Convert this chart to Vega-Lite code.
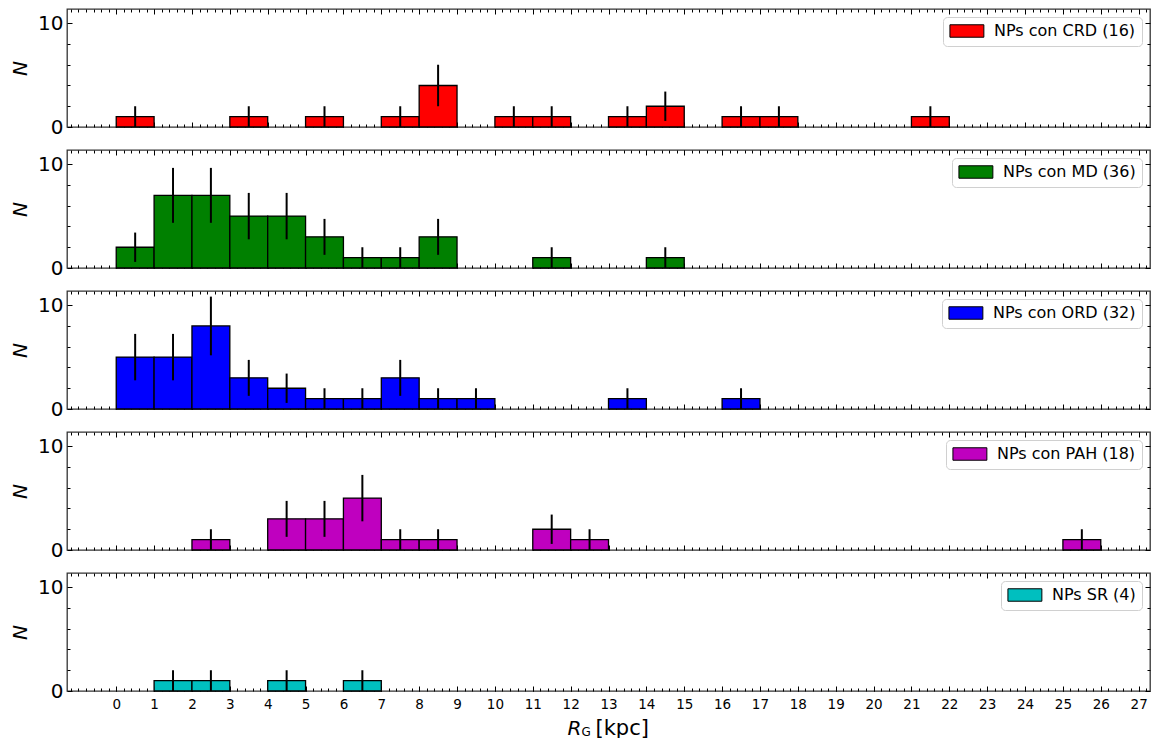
{
  "$schema": "https://vega.github.io/schema/vega-lite/v6.json",
  "background": "white",
  "padding": {"left": 9, "top": 7, "right": 3, "bottom": 0},
  "bounds": "flush",
  "spacing": 23,
  "datasets": {
    "crd": [
      {"bin_start": 0, "bin_end": 1, "rg": 0.5, "n": 1, "lo": 0, "hi": 2, "label": "NPs con CRD (16)"},
      {"bin_start": 3, "bin_end": 4, "rg": 3.5, "n": 1, "lo": 0, "hi": 2, "label": "NPs con CRD (16)"},
      {"bin_start": 5, "bin_end": 6, "rg": 5.5, "n": 1, "lo": 0, "hi": 2, "label": "NPs con CRD (16)"},
      {"bin_start": 7, "bin_end": 8, "rg": 7.5, "n": 1, "lo": 0, "hi": 2, "label": "NPs con CRD (16)"},
      {"bin_start": 8, "bin_end": 9, "rg": 8.5, "n": 4, "lo": 2, "hi": 6, "label": "NPs con CRD (16)"},
      {"bin_start": 10, "bin_end": 11, "rg": 10.5, "n": 1, "lo": 0, "hi": 2, "label": "NPs con CRD (16)"},
      {"bin_start": 11, "bin_end": 12, "rg": 11.5, "n": 1, "lo": 0, "hi": 2, "label": "NPs con CRD (16)"},
      {"bin_start": 13, "bin_end": 14, "rg": 13.5, "n": 1, "lo": 0, "hi": 2, "label": "NPs con CRD (16)"},
      {"bin_start": 14, "bin_end": 15, "rg": 14.5, "n": 2, "lo": 0.586, "hi": 3.414, "label": "NPs con CRD (16)"},
      {"bin_start": 16, "bin_end": 17, "rg": 16.5, "n": 1, "lo": 0, "hi": 2, "label": "NPs con CRD (16)"},
      {"bin_start": 17, "bin_end": 18, "rg": 17.5, "n": 1, "lo": 0, "hi": 2, "label": "NPs con CRD (16)"},
      {"bin_start": 21, "bin_end": 22, "rg": 21.5, "n": 1, "lo": 0, "hi": 2, "label": "NPs con CRD (16)"}
    ],
    "md": [
      {"bin_start": 0, "bin_end": 1, "rg": 0.5, "n": 2, "lo": 0.586, "hi": 3.414, "label": "NPs con MD (36)"},
      {"bin_start": 1, "bin_end": 2, "rg": 1.5, "n": 7, "lo": 4.354, "hi": 9.646, "label": "NPs con MD (36)"},
      {"bin_start": 2, "bin_end": 3, "rg": 2.5, "n": 7, "lo": 4.354, "hi": 9.646, "label": "NPs con MD (36)"},
      {"bin_start": 3, "bin_end": 4, "rg": 3.5, "n": 5, "lo": 2.764, "hi": 7.236, "label": "NPs con MD (36)"},
      {"bin_start": 4, "bin_end": 5, "rg": 4.5, "n": 5, "lo": 2.764, "hi": 7.236, "label": "NPs con MD (36)"},
      {"bin_start": 5, "bin_end": 6, "rg": 5.5, "n": 3, "lo": 1.268, "hi": 4.732, "label": "NPs con MD (36)"},
      {"bin_start": 6, "bin_end": 7, "rg": 6.5, "n": 1, "lo": 0, "hi": 2, "label": "NPs con MD (36)"},
      {"bin_start": 7, "bin_end": 8, "rg": 7.5, "n": 1, "lo": 0, "hi": 2, "label": "NPs con MD (36)"},
      {"bin_start": 8, "bin_end": 9, "rg": 8.5, "n": 3, "lo": 1.268, "hi": 4.732, "label": "NPs con MD (36)"},
      {"bin_start": 11, "bin_end": 12, "rg": 11.5, "n": 1, "lo": 0, "hi": 2, "label": "NPs con MD (36)"},
      {"bin_start": 14, "bin_end": 15, "rg": 14.5, "n": 1, "lo": 0, "hi": 2, "label": "NPs con MD (36)"}
    ],
    "ord": [
      {"bin_start": 0, "bin_end": 1, "rg": 0.5, "n": 5, "lo": 2.764, "hi": 7.236, "label": "NPs con ORD (32)"},
      {"bin_start": 1, "bin_end": 2, "rg": 1.5, "n": 5, "lo": 2.764, "hi": 7.236, "label": "NPs con ORD (32)"},
      {"bin_start": 2, "bin_end": 3, "rg": 2.5, "n": 8, "lo": 5.172, "hi": 10.828, "label": "NPs con ORD (32)"},
      {"bin_start": 3, "bin_end": 4, "rg": 3.5, "n": 3, "lo": 1.268, "hi": 4.732, "label": "NPs con ORD (32)"},
      {"bin_start": 4, "bin_end": 5, "rg": 4.5, "n": 2, "lo": 0.586, "hi": 3.414, "label": "NPs con ORD (32)"},
      {"bin_start": 5, "bin_end": 6, "rg": 5.5, "n": 1, "lo": 0, "hi": 2, "label": "NPs con ORD (32)"},
      {"bin_start": 6, "bin_end": 7, "rg": 6.5, "n": 1, "lo": 0, "hi": 2, "label": "NPs con ORD (32)"},
      {"bin_start": 7, "bin_end": 8, "rg": 7.5, "n": 3, "lo": 1.268, "hi": 4.732, "label": "NPs con ORD (32)"},
      {"bin_start": 8, "bin_end": 9, "rg": 8.5, "n": 1, "lo": 0, "hi": 2, "label": "NPs con ORD (32)"},
      {"bin_start": 9, "bin_end": 10, "rg": 9.5, "n": 1, "lo": 0, "hi": 2, "label": "NPs con ORD (32)"},
      {"bin_start": 13, "bin_end": 14, "rg": 13.5, "n": 1, "lo": 0, "hi": 2, "label": "NPs con ORD (32)"},
      {"bin_start": 16, "bin_end": 17, "rg": 16.5, "n": 1, "lo": 0, "hi": 2, "label": "NPs con ORD (32)"}
    ],
    "pah": [
      {"bin_start": 2, "bin_end": 3, "rg": 2.5, "n": 1, "lo": 0, "hi": 2, "label": "NPs con PAH (18)"},
      {"bin_start": 4, "bin_end": 5, "rg": 4.5, "n": 3, "lo": 1.268, "hi": 4.732, "label": "NPs con PAH (18)"},
      {"bin_start": 5, "bin_end": 6, "rg": 5.5, "n": 3, "lo": 1.268, "hi": 4.732, "label": "NPs con PAH (18)"},
      {"bin_start": 6, "bin_end": 7, "rg": 6.5, "n": 5, "lo": 2.764, "hi": 7.236, "label": "NPs con PAH (18)"},
      {"bin_start": 7, "bin_end": 8, "rg": 7.5, "n": 1, "lo": 0, "hi": 2, "label": "NPs con PAH (18)"},
      {"bin_start": 8, "bin_end": 9, "rg": 8.5, "n": 1, "lo": 0, "hi": 2, "label": "NPs con PAH (18)"},
      {"bin_start": 11, "bin_end": 12, "rg": 11.5, "n": 2, "lo": 0.586, "hi": 3.414, "label": "NPs con PAH (18)"},
      {"bin_start": 12, "bin_end": 13, "rg": 12.5, "n": 1, "lo": 0, "hi": 2, "label": "NPs con PAH (18)"},
      {"bin_start": 25, "bin_end": 26, "rg": 25.5, "n": 1, "lo": 0, "hi": 2, "label": "NPs con PAH (18)"}
    ],
    "sr": [
      {"bin_start": 1, "bin_end": 2, "rg": 1.5, "n": 1, "lo": 0, "hi": 2, "label": "NPs SR (4)"},
      {"bin_start": 2, "bin_end": 3, "rg": 2.5, "n": 1, "lo": 0, "hi": 2, "label": "NPs SR (4)"},
      {"bin_start": 4, "bin_end": 5, "rg": 4.5, "n": 1, "lo": 0, "hi": 2, "label": "NPs SR (4)"},
      {"bin_start": 6, "bin_end": 7, "rg": 6.5, "n": 1, "lo": 0, "hi": 2, "label": "NPs SR (4)"}
    ]
  },
  "vconcat": [
    {
      "width": 1083, "height": 118,
      "data": {"name": "crd"},
      "layer": [
        {"mark": {"type": "bar", "stroke": "black", "strokeWidth": 1.3},
         "encoding": {
           "x": {"field": "bin_start", "type": "quantitative", "scale": {"domain": [-1.3, 27.3], "nice": false, "zero": false}, "axis": null},
           "x2": {"field": "bin_end"},
           "y": {"field": "n", "type": "quantitative", "scale": {"domain": [0, 11.37], "nice": false, "zero": false}, "axis": {"orient": "left", "values": [0, 10], "ticks": false, "labelFontSize": 20, "labelPadding": 4, "title": "N", "titleFontSize": 20, "titleFontStyle": "italic", "titlePadding": 7}},
           "y2": {"datum": 0},
           "fill": {"field": "label", "type": "nominal", "scale": {"range": ["#ff0000"]}, "legend": {"title": null, "orient": "top-right", "offset": 8, "symbolType": "M-1,-0.88H3.8V0.88H-1Z", "symbolSize": 200, "symbolStrokeColor": "black", "symbolStrokeWidth": 1, "labelOffset": 29}}
         }},
        {"mark": {"type": "rule", "stroke": "black", "strokeWidth": 2},
         "encoding": {
           "x": {"field": "rg", "type": "quantitative", "scale": {"domain": [-1.3, 27.3], "nice": false, "zero": false}, "axis": {"orient": "bottom", "values": [0,1,2,3,4,5,6,7,8,9,10,11,12,13,14,15,16,17,18,19,20,21,22,23,24,25,26,27], "tickSize": -5, "labels": false, "title": null}},
           "y": {"field": "lo", "type": "quantitative", "scale": {"domain": [0, 11.37], "nice": false, "zero": false}, "axis": {"orient": "left", "values": [0, 10], "tickSize": -5, "labels": false, "title": null}},
           "y2": {"field": "hi"}
         }},
        {"mark": {"type": "point", "opacity": 0},
         "encoding": {
           "x": {"field": "rg", "type": "quantitative", "scale": {"domain": [-1.3, 27.3], "nice": false, "zero": false}, "axis": {"orient": "bottom", "tickCount": 143, "tickSize": -3, "labels": false, "title": null}},
           "y": {"field": "n", "type": "quantitative", "scale": {"domain": [0, 11.37], "nice": false, "zero": false}, "axis": {"orient": "left", "values": [2, 4, 6, 8], "tickSize": -3, "labels": false, "title": null}}
         }},
        {"mark": {"type": "point", "opacity": 0},
         "encoding": {
           "x": {"field": "rg", "type": "quantitative", "scale": {"domain": [-1.3, 27.3], "nice": false, "zero": false}, "axis": {"orient": "top", "values": [0,1,2,3,4,5,6,7,8,9,10,11,12,13,14,15,16,17,18,19,20,21,22,23,24,25,26,27], "tickSize": -5, "labels": false, "title": null}},
           "y": {"field": "n", "type": "quantitative", "scale": {"domain": [0, 11.37], "nice": false, "zero": false}, "axis": {"orient": "right", "values": [0, 10], "tickSize": -5, "labels": false, "title": null}}
         }},
        {"mark": {"type": "point", "opacity": 0},
         "encoding": {
           "x": {"field": "rg", "type": "quantitative", "scale": {"domain": [-1.3, 27.3], "nice": false, "zero": false}, "axis": {"orient": "top", "tickCount": 143, "tickSize": -3, "labels": false, "title": null}},
           "y": {"field": "n", "type": "quantitative", "scale": {"domain": [0, 11.37], "nice": false, "zero": false}, "axis": {"orient": "right", "values": [2, 4, 6, 8], "tickSize": -3, "labels": false, "title": null}}
         }}
      ],
      "resolve": {"axis": {"x": "independent", "y": "independent"}}
    },
    {
      "width": 1083, "height": 118,
      "data": {"name": "md"},
      "layer": [
        {"mark": {"type": "bar", "stroke": "black", "strokeWidth": 1.3},
         "encoding": {
           "x": {"field": "bin_start", "type": "quantitative", "scale": {"domain": [-1.3, 27.3], "nice": false, "zero": false}, "axis": null},
           "x2": {"field": "bin_end"},
           "y": {"field": "n", "type": "quantitative", "scale": {"domain": [0, 11.37], "nice": false, "zero": false}, "axis": {"orient": "left", "values": [0, 10], "ticks": false, "labelFontSize": 20, "labelPadding": 4, "title": "N", "titleFontSize": 20, "titleFontStyle": "italic", "titlePadding": 7}},
           "y2": {"datum": 0},
           "fill": {"field": "label", "type": "nominal", "scale": {"range": ["#008000"]}, "legend": {"title": null, "orient": "top-right", "offset": 8, "symbolType": "M-1,-0.88H3.8V0.88H-1Z", "symbolSize": 200, "symbolStrokeColor": "black", "symbolStrokeWidth": 1, "labelOffset": 29}}
         }},
        {"mark": {"type": "rule", "stroke": "black", "strokeWidth": 2},
         "encoding": {
           "x": {"field": "rg", "type": "quantitative", "scale": {"domain": [-1.3, 27.3], "nice": false, "zero": false}, "axis": {"orient": "bottom", "values": [0,1,2,3,4,5,6,7,8,9,10,11,12,13,14,15,16,17,18,19,20,21,22,23,24,25,26,27], "tickSize": -5, "labels": false, "title": null}},
           "y": {"field": "lo", "type": "quantitative", "scale": {"domain": [0, 11.37], "nice": false, "zero": false}, "axis": {"orient": "left", "values": [0, 10], "tickSize": -5, "labels": false, "title": null}},
           "y2": {"field": "hi"}
         }},
        {"mark": {"type": "point", "opacity": 0},
         "encoding": {
           "x": {"field": "rg", "type": "quantitative", "scale": {"domain": [-1.3, 27.3], "nice": false, "zero": false}, "axis": {"orient": "bottom", "tickCount": 143, "tickSize": -3, "labels": false, "title": null}},
           "y": {"field": "n", "type": "quantitative", "scale": {"domain": [0, 11.37], "nice": false, "zero": false}, "axis": {"orient": "left", "values": [2, 4, 6, 8], "tickSize": -3, "labels": false, "title": null}}
         }},
        {"mark": {"type": "point", "opacity": 0},
         "encoding": {
           "x": {"field": "rg", "type": "quantitative", "scale": {"domain": [-1.3, 27.3], "nice": false, "zero": false}, "axis": {"orient": "top", "values": [0,1,2,3,4,5,6,7,8,9,10,11,12,13,14,15,16,17,18,19,20,21,22,23,24,25,26,27], "tickSize": -5, "labels": false, "title": null}},
           "y": {"field": "n", "type": "quantitative", "scale": {"domain": [0, 11.37], "nice": false, "zero": false}, "axis": {"orient": "right", "values": [0, 10], "tickSize": -5, "labels": false, "title": null}}
         }},
        {"mark": {"type": "point", "opacity": 0},
         "encoding": {
           "x": {"field": "rg", "type": "quantitative", "scale": {"domain": [-1.3, 27.3], "nice": false, "zero": false}, "axis": {"orient": "top", "tickCount": 143, "tickSize": -3, "labels": false, "title": null}},
           "y": {"field": "n", "type": "quantitative", "scale": {"domain": [0, 11.37], "nice": false, "zero": false}, "axis": {"orient": "right", "values": [2, 4, 6, 8], "tickSize": -3, "labels": false, "title": null}}
         }}
      ],
      "resolve": {"axis": {"x": "independent", "y": "independent"}}
    },
    {
      "width": 1083, "height": 118,
      "data": {"name": "ord"},
      "layer": [
        {"mark": {"type": "bar", "stroke": "black", "strokeWidth": 1.3},
         "encoding": {
           "x": {"field": "bin_start", "type": "quantitative", "scale": {"domain": [-1.3, 27.3], "nice": false, "zero": false}, "axis": null},
           "x2": {"field": "bin_end"},
           "y": {"field": "n", "type": "quantitative", "scale": {"domain": [0, 11.37], "nice": false, "zero": false}, "axis": {"orient": "left", "values": [0, 10], "ticks": false, "labelFontSize": 20, "labelPadding": 4, "title": "N", "titleFontSize": 20, "titleFontStyle": "italic", "titlePadding": 7}},
           "y2": {"datum": 0},
           "fill": {"field": "label", "type": "nominal", "scale": {"range": ["#0000ff"]}, "legend": {"title": null, "orient": "top-right", "offset": 8, "symbolType": "M-1,-0.88H3.8V0.88H-1Z", "symbolSize": 200, "symbolStrokeColor": "black", "symbolStrokeWidth": 1, "labelOffset": 29}}
         }},
        {"mark": {"type": "rule", "stroke": "black", "strokeWidth": 2},
         "encoding": {
           "x": {"field": "rg", "type": "quantitative", "scale": {"domain": [-1.3, 27.3], "nice": false, "zero": false}, "axis": {"orient": "bottom", "values": [0,1,2,3,4,5,6,7,8,9,10,11,12,13,14,15,16,17,18,19,20,21,22,23,24,25,26,27], "tickSize": -5, "labels": false, "title": null}},
           "y": {"field": "lo", "type": "quantitative", "scale": {"domain": [0, 11.37], "nice": false, "zero": false}, "axis": {"orient": "left", "values": [0, 10], "tickSize": -5, "labels": false, "title": null}},
           "y2": {"field": "hi"}
         }},
        {"mark": {"type": "point", "opacity": 0},
         "encoding": {
           "x": {"field": "rg", "type": "quantitative", "scale": {"domain": [-1.3, 27.3], "nice": false, "zero": false}, "axis": {"orient": "bottom", "tickCount": 143, "tickSize": -3, "labels": false, "title": null}},
           "y": {"field": "n", "type": "quantitative", "scale": {"domain": [0, 11.37], "nice": false, "zero": false}, "axis": {"orient": "left", "values": [2, 4, 6, 8], "tickSize": -3, "labels": false, "title": null}}
         }},
        {"mark": {"type": "point", "opacity": 0},
         "encoding": {
           "x": {"field": "rg", "type": "quantitative", "scale": {"domain": [-1.3, 27.3], "nice": false, "zero": false}, "axis": {"orient": "top", "values": [0,1,2,3,4,5,6,7,8,9,10,11,12,13,14,15,16,17,18,19,20,21,22,23,24,25,26,27], "tickSize": -5, "labels": false, "title": null}},
           "y": {"field": "n", "type": "quantitative", "scale": {"domain": [0, 11.37], "nice": false, "zero": false}, "axis": {"orient": "right", "values": [0, 10], "tickSize": -5, "labels": false, "title": null}}
         }},
        {"mark": {"type": "point", "opacity": 0},
         "encoding": {
           "x": {"field": "rg", "type": "quantitative", "scale": {"domain": [-1.3, 27.3], "nice": false, "zero": false}, "axis": {"orient": "top", "tickCount": 143, "tickSize": -3, "labels": false, "title": null}},
           "y": {"field": "n", "type": "quantitative", "scale": {"domain": [0, 11.37], "nice": false, "zero": false}, "axis": {"orient": "right", "values": [2, 4, 6, 8], "tickSize": -3, "labels": false, "title": null}}
         }}
      ],
      "resolve": {"axis": {"x": "independent", "y": "independent"}}
    },
    {
      "width": 1083, "height": 118,
      "data": {"name": "pah"},
      "layer": [
        {"mark": {"type": "bar", "stroke": "black", "strokeWidth": 1.3},
         "encoding": {
           "x": {"field": "bin_start", "type": "quantitative", "scale": {"domain": [-1.3, 27.3], "nice": false, "zero": false}, "axis": null},
           "x2": {"field": "bin_end"},
           "y": {"field": "n", "type": "quantitative", "scale": {"domain": [0, 11.37], "nice": false, "zero": false}, "axis": {"orient": "left", "values": [0, 10], "ticks": false, "labelFontSize": 20, "labelPadding": 4, "title": "N", "titleFontSize": 20, "titleFontStyle": "italic", "titlePadding": 7}},
           "y2": {"datum": 0},
           "fill": {"field": "label", "type": "nominal", "scale": {"range": ["#bf00bf"]}, "legend": {"title": null, "orient": "top-right", "offset": 8, "symbolType": "M-1,-0.88H3.8V0.88H-1Z", "symbolSize": 200, "symbolStrokeColor": "black", "symbolStrokeWidth": 1, "labelOffset": 29}}
         }},
        {"mark": {"type": "rule", "stroke": "black", "strokeWidth": 2},
         "encoding": {
           "x": {"field": "rg", "type": "quantitative", "scale": {"domain": [-1.3, 27.3], "nice": false, "zero": false}, "axis": {"orient": "bottom", "values": [0,1,2,3,4,5,6,7,8,9,10,11,12,13,14,15,16,17,18,19,20,21,22,23,24,25,26,27], "tickSize": -5, "labels": false, "title": null}},
           "y": {"field": "lo", "type": "quantitative", "scale": {"domain": [0, 11.37], "nice": false, "zero": false}, "axis": {"orient": "left", "values": [0, 10], "tickSize": -5, "labels": false, "title": null}},
           "y2": {"field": "hi"}
         }},
        {"mark": {"type": "point", "opacity": 0},
         "encoding": {
           "x": {"field": "rg", "type": "quantitative", "scale": {"domain": [-1.3, 27.3], "nice": false, "zero": false}, "axis": {"orient": "bottom", "tickCount": 143, "tickSize": -3, "labels": false, "title": null}},
           "y": {"field": "n", "type": "quantitative", "scale": {"domain": [0, 11.37], "nice": false, "zero": false}, "axis": {"orient": "left", "values": [2, 4, 6, 8], "tickSize": -3, "labels": false, "title": null}}
         }},
        {"mark": {"type": "point", "opacity": 0},
         "encoding": {
           "x": {"field": "rg", "type": "quantitative", "scale": {"domain": [-1.3, 27.3], "nice": false, "zero": false}, "axis": {"orient": "top", "values": [0,1,2,3,4,5,6,7,8,9,10,11,12,13,14,15,16,17,18,19,20,21,22,23,24,25,26,27], "tickSize": -5, "labels": false, "title": null}},
           "y": {"field": "n", "type": "quantitative", "scale": {"domain": [0, 11.37], "nice": false, "zero": false}, "axis": {"orient": "right", "values": [0, 10], "tickSize": -5, "labels": false, "title": null}}
         }},
        {"mark": {"type": "point", "opacity": 0},
         "encoding": {
           "x": {"field": "rg", "type": "quantitative", "scale": {"domain": [-1.3, 27.3], "nice": false, "zero": false}, "axis": {"orient": "top", "tickCount": 143, "tickSize": -3, "labels": false, "title": null}},
           "y": {"field": "n", "type": "quantitative", "scale": {"domain": [0, 11.37], "nice": false, "zero": false}, "axis": {"orient": "right", "values": [2, 4, 6, 8], "tickSize": -3, "labels": false, "title": null}}
         }}
      ],
      "resolve": {"axis": {"x": "independent", "y": "independent"}}
    },
    {
      "width": 1083, "height": 118,
      "data": {"name": "sr"},
      "layer": [
        {"mark": {"type": "bar", "stroke": "black", "strokeWidth": 1.3},
         "encoding": {
           "x": {"field": "bin_start", "type": "quantitative", "scale": {"domain": [-1.3, 27.3], "nice": false, "zero": false}, "axis": {"orient": "bottom", "values": [0,1,2,3,4,5,6,7,8,9,10,11,12,13,14,15,16,17,18,19,20,21,22,23,24,25,26,27], "ticks": false, "labelFontSize": 13.5, "labelPadding": 6, "labelFlush": false, "labelOverlap": false, "title": "R", "titleFontSize": 20, "titleFontStyle": "italic", "titleX": 500, "titleY": 43, "titleAlign": "left", "titleBaseline": "alphabetic"}},
           "x2": {"field": "bin_end"},
           "y": {"field": "n", "type": "quantitative", "scale": {"domain": [0, 11.37], "nice": false, "zero": false}, "axis": {"orient": "left", "values": [0, 10], "ticks": false, "labelFontSize": 20, "labelPadding": 4, "title": "N", "titleFontSize": 20, "titleFontStyle": "italic", "titlePadding": 7}},
           "y2": {"datum": 0},
           "fill": {"field": "label", "type": "nominal", "scale": {"range": ["#00bfbf"]}, "legend": {"title": null, "orient": "top-right", "offset": 8, "symbolType": "M-1,-0.88H3.8V0.88H-1Z", "symbolSize": 200, "symbolStrokeColor": "black", "symbolStrokeWidth": 1, "labelOffset": 29}}
         }},
        {"mark": {"type": "rule", "stroke": "black", "strokeWidth": 2},
         "encoding": {
           "x": {"field": "rg", "type": "quantitative", "scale": {"domain": [-1.3, 27.3], "nice": false, "zero": false}, "axis": {"orient": "bottom", "values": [0,1,2,3,4,5,6,7,8,9,10,11,12,13,14,15,16,17,18,19,20,21,22,23,24,25,26,27], "tickSize": -5, "labels": false, "title": "G", "titleFontSize": 12, "titleX": 514, "titleY": 44, "titleAlign": "left", "titleBaseline": "alphabetic"}},
           "y": {"field": "lo", "type": "quantitative", "scale": {"domain": [0, 11.37], "nice": false, "zero": false}, "axis": {"orient": "left", "values": [0, 10], "tickSize": -5, "labels": false, "title": null}},
           "y2": {"field": "hi"}
         }},
        {"mark": {"type": "point", "opacity": 0},
         "encoding": {
           "x": {"field": "rg", "type": "quantitative", "scale": {"domain": [-1.3, 27.3], "nice": false, "zero": false}, "axis": {"orient": "bottom", "tickCount": 143, "tickSize": -3, "labels": false, "title": "[kpc]", "titleFontSize": 21, "titleX": 528, "titleY": 43, "titleAlign": "left", "titleBaseline": "alphabetic"}},
           "y": {"field": "n", "type": "quantitative", "scale": {"domain": [0, 11.37], "nice": false, "zero": false}, "axis": {"orient": "left", "values": [2, 4, 6, 8], "tickSize": -3, "labels": false, "title": null}}
         }},
        {"mark": {"type": "point", "opacity": 0},
         "encoding": {
           "x": {"field": "rg", "type": "quantitative", "scale": {"domain": [-1.3, 27.3], "nice": false, "zero": false}, "axis": {"orient": "top", "values": [0,1,2,3,4,5,6,7,8,9,10,11,12,13,14,15,16,17,18,19,20,21,22,23,24,25,26,27], "tickSize": -5, "labels": false, "title": null}},
           "y": {"field": "n", "type": "quantitative", "scale": {"domain": [0, 11.37], "nice": false, "zero": false}, "axis": {"orient": "right", "values": [0, 10], "tickSize": -5, "labels": false, "title": null}}
         }},
        {"mark": {"type": "point", "opacity": 0},
         "encoding": {
           "x": {"field": "rg", "type": "quantitative", "scale": {"domain": [-1.3, 27.3], "nice": false, "zero": false}, "axis": {"orient": "top", "tickCount": 143, "tickSize": -3, "labels": false, "title": null}},
           "y": {"field": "n", "type": "quantitative", "scale": {"domain": [0, 11.37], "nice": false, "zero": false}, "axis": {"orient": "right", "values": [2, 4, 6, 8], "tickSize": -3, "labels": false, "title": null}}
         }}
      ],
      "resolve": {"axis": {"x": "independent", "y": "independent"}}
    }
  ],
  "resolve": {"scale": {"fill": "independent"}, "legend": {"fill": "independent"}},
  "config": {
    "font": "DejaVu Sans",
    "view": {"stroke": "#333333", "strokeWidth": 1.3},
    "axis": {"grid": false, "domain": false, "tickColor": "black", "tickWidth": 1, "labelColor": "black", "titleColor": "black", "titleFontWeight": "normal", "labelFont": "DejaVu Sans", "titleFont": "DejaVu Sans"},
    "legend": {"fillColor": "white", "strokeColor": "#d0d0d0", "cornerRadius": 4, "padding": 6, "labelFont": "DejaVu Sans", "labelFontSize": 16, "labelColor": "black"}
  }
}
